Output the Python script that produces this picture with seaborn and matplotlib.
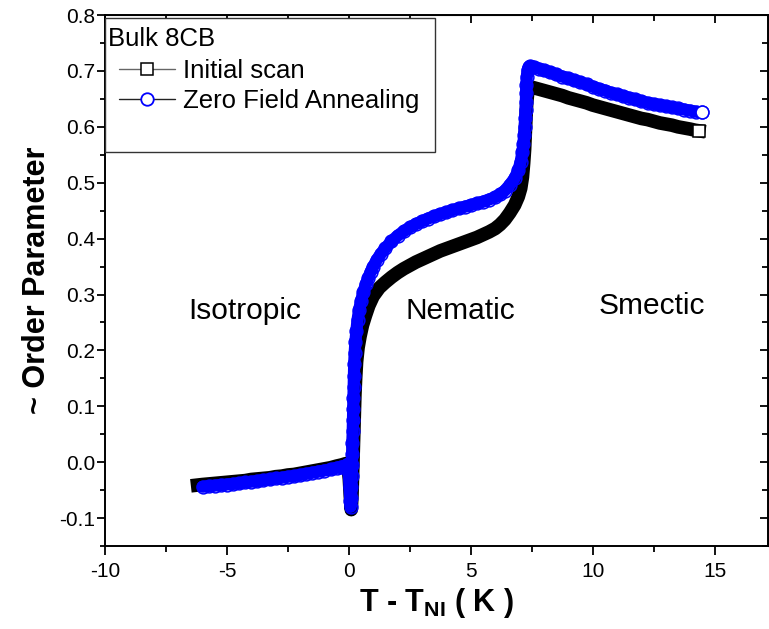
import numpy as np
import matplotlib
matplotlib.use("Agg")
import matplotlib.pyplot as plt
import seaborn as sns
from matplotlib.patches import Rectangle
from matplotlib.lines import Line2D
from matplotlib.ticker import MultipleLocator, FormatStrFormatter

# ---- data (T - T_NI in K, ~order parameter) ----
init_T = [-6.2, -6.0, -5.75, -5.5, -5.25, -5.0, -4.75, -4.5, -4.25, -4.0,
          -3.75, -3.5, -3.25, -3.0, -2.75, -2.5, -2.25, -2.0, -1.75, -1.5,
          -1.25, -1.0, -0.75, -0.5, -0.3, -0.15, -0.05,
          0.02, 0.06, 0.10, 0.13, 0.15, 0.17, 0.19, 0.21, 0.23, 0.25,
          0.28, 0.32, 0.38, 0.46, 0.56, 0.68, 0.82, 1.0, 1.25, 1.5,
          1.75, 2.0, 2.25, 2.5, 2.75, 3.0, 3.25, 3.5, 3.75, 4.0,
          4.25, 4.5, 4.75, 5.0, 5.25, 5.5, 5.75, 6.0, 6.2, 6.4,
          6.6, 6.8, 6.95, 7.05, 7.12, 7.17, 7.21, 7.24, 7.27, 7.3,
          7.34, 7.4, 7.5, 7.75, 8.0, 8.25, 8.5, 8.75, 9.0, 9.25,
          9.5, 9.75, 10.0, 10.25, 10.5, 10.75, 11.0, 11.25, 11.5, 11.75,
          12.0, 12.25, 12.5, 12.75, 13.0, 13.25, 13.5, 13.75, 14.0, 14.2,
          14.35]
init_S = [-0.041, -0.040, -0.039, -0.038, -0.037, -0.036, -0.035, -0.034, -0.033, -0.031,
          -0.030, -0.029, -0.028, -0.026, -0.025, -0.023, -0.022, -0.020, -0.018, -0.016,
          -0.014, -0.012, -0.010, -0.007, -0.005, -0.003, -0.002,
          -0.030, -0.060, -0.085, -0.060, -0.030, 0.000, 0.030, 0.060, 0.090, 0.120,
          0.150, 0.180, 0.205, 0.225, 0.245, 0.262, 0.280, 0.297, 0.312, 0.322,
          0.331, 0.339, 0.346, 0.352, 0.358, 0.363, 0.368, 0.373, 0.378, 0.382,
          0.386, 0.390, 0.394, 0.398, 0.402, 0.407, 0.412, 0.418, 0.425, 0.434,
          0.446, 0.460, 0.475, 0.490, 0.510, 0.535, 0.560, 0.590, 0.620, 0.645,
          0.662, 0.671, 0.671, 0.668, 0.665, 0.662, 0.659, 0.656, 0.652, 0.649,
          0.646, 0.643, 0.639, 0.636, 0.633, 0.630, 0.627, 0.624, 0.621, 0.618,
          0.615, 0.613, 0.610, 0.607, 0.605, 0.603, 0.600, 0.598, 0.596, 0.594,
          0.593]

anneal_T = [-6.0, -5.75, -5.5, -5.25, -5.0, -4.75, -4.5, -4.25, -4.0, -3.75,
            -3.5, -3.25, -3.0, -2.75, -2.5, -2.25, -2.0, -1.75, -1.5, -1.25,
            -1.0, -0.75, -0.5, -0.3, -0.15, -0.05,
            0.0, 0.03, 0.06, 0.08, 0.10, 0.11, 0.12, 0.13, 0.14, 0.15,
            0.16, 0.17, 0.18, 0.19, 0.20, 0.21, 0.22, 0.24, 0.27, 0.31,
            0.36, 0.42, 0.5, 0.6, 0.7, 0.8, 0.9, 1.0, 1.15, 1.3,
            1.5, 1.75, 2.0, 2.25, 2.5, 2.75, 3.0, 3.25, 3.5, 3.75,
            4.0, 4.25, 4.5, 4.75, 5.0, 5.25, 5.5, 5.75, 6.0, 6.2,
            6.4, 6.6, 6.8, 6.95, 7.05, 7.12, 7.16, 7.19, 7.21, 7.23,
            7.25, 7.26, 7.27, 7.28, 7.3, 7.33, 7.38, 7.45, 7.6, 7.8,
            8.0, 8.25, 8.5, 8.75, 9.0, 9.25, 9.5, 9.75, 10.0, 10.25,
            10.5, 10.75, 11.0, 11.25, 11.5, 11.75, 12.0, 12.25, 12.5, 12.75,
            13.0, 13.25, 13.5, 13.75, 14.0, 14.25, 14.47]
anneal_S = [-0.044, -0.043, -0.042, -0.041, -0.040, -0.039, -0.038, -0.036, -0.035, -0.034,
            -0.032, -0.031, -0.029, -0.028, -0.026, -0.025, -0.023, -0.021, -0.019, -0.017,
            -0.015, -0.013, -0.010, -0.008, -0.006, -0.004,
            -0.020, -0.045, -0.070, -0.080, -0.065, -0.045, -0.025, -0.005, 0.015, 0.035,
            0.055, 0.075, 0.095, 0.115, 0.135, 0.155, 0.175, 0.195, 0.215, 0.235,
            0.255, 0.272, 0.288, 0.305, 0.318, 0.330, 0.341, 0.350, 0.362, 0.372,
            0.383, 0.395, 0.405, 0.413, 0.420, 0.426, 0.431, 0.436, 0.440, 0.444,
            0.447, 0.451, 0.454, 0.457, 0.460, 0.463, 0.466, 0.470, 0.474, 0.479,
            0.486, 0.496, 0.508, 0.522, 0.538, 0.555, 0.570, 0.585, 0.600, 0.615,
            0.630, 0.645, 0.660, 0.675, 0.690, 0.701, 0.707, 0.709, 0.707, 0.704,
            0.701, 0.698, 0.694, 0.690, 0.687, 0.683, 0.680, 0.676, 0.672, 0.668,
            0.665, 0.661, 0.658, 0.655, 0.652, 0.649, 0.646, 0.643, 0.641, 0.639,
            0.637, 0.635, 0.633, 0.631, 0.629, 0.627, 0.626]

series_labels = ["Initial scan", "Zero Field Annealing"]
phase_names = ["Isotropic", "Nematic", "Smectic"]
phase_T = [-4.26, 4.59, 12.42]
phase_S = [0.27, 0.27, 0.279]

sns.set_style("ticks")
plt.rcParams["font.family"] = ["Liberation Sans", "DejaVu Sans"]
plt.rcParams["mathtext.default"] = "regular"
plt.rcParams["axes.unicode_minus"] = False
for k in ["text.color", "axes.labelcolor", "xtick.color", "ytick.color"]:
    plt.rcParams[k] = "black"

fig = plt.figure(figsize=(7.69, 6.29), dpi=100)
ax = fig.add_axes([0.1365, 0.132, 0.8625, 0.844])

BLACK, BLUE = "black", "#0000ff"
MS = 9.2
# densely packed open symbols in the original merge into a solid band:
# draw the band, then symbol outlines (circles only), last symbol left open
for T, S, col, mk, cap, band_w, outline in [
        (init_T, init_S, BLACK, "s", "projecting", 9.8, False),
        (anneal_T, anneal_S, BLUE, "o", "round", 8.8, True)]:
    sns.lineplot(x=T, y=S, ax=ax, sort=False, estimator=None, color=col,
                 lw=band_w, solid_capstyle=cap, solid_joinstyle="round")
    if outline:
        sns.lineplot(x=T, y=S, ax=ax, sort=False, estimator=None, lw=0,
                     marker=mk, markersize=MS, markerfacecolor="none",
                     markeredgecolor=col, markeredgewidth=1.1)
    sns.lineplot(x=T[-1:], y=S[-1:], ax=ax, sort=False, estimator=None, lw=0,
                 marker=mk, markersize=MS, markerfacecolor="white",
                 markeredgecolor=col, markeredgewidth=1.1)

for name, tx, sy in zip(phase_names, phase_T, phase_S):
    ax.text(tx, sy, name, fontsize=21.5, ha="center", va="center")

ax.set_xlim(-10, 17.2)
ax.set_ylim(-0.15, 0.8)
ax.xaxis.set_major_locator(MultipleLocator(5))
ax.xaxis.set_minor_locator(MultipleLocator(2.5))
ax.yaxis.set_major_locator(MultipleLocator(0.1))
ax.yaxis.set_minor_locator(MultipleLocator(0.05))
ax.yaxis.set_major_formatter(FormatStrFormatter("%.1f"))
ax.tick_params(which="both", direction="out", width=1.3, labelsize=15)
ax.tick_params(axis="x", which="major", length=6.5, pad=5)
ax.tick_params(axis="x", which="minor", length=4.5)
ax.tick_params(axis="y", which="major", length=5.5, pad=1.5)
ax.tick_params(axis="y", which="minor", length=3.5)
for sp in ax.spines.values():
    sp.set_visible(True)
    sp.set_linewidth(1.4)
    sp.set_color("black")

# inward ticks on top and right
top = ax.secondary_xaxis("top")
top.xaxis.set_major_locator(MultipleLocator(5))
top.xaxis.set_minor_locator(MultipleLocator(2.5))
top.tick_params(which="both", direction="in", labeltop=False, width=1.3)
top.tick_params(which="major", length=6)
top.tick_params(which="minor", length=4)
right = ax.secondary_yaxis("right")
right.yaxis.set_major_locator(MultipleLocator(0.1))
right.yaxis.set_minor_locator(MultipleLocator(0.05))
right.tick_params(which="both", direction="in", labelright=False, width=1.3)
right.tick_params(which="major", length=6)
right.tick_params(which="minor", length=4)

ax.set_xlabel(r"T - T$_{NI}$ ( K )", fontsize=22, fontweight="bold", labelpad=4)
ax.set_ylabel("~ Order Parameter", fontsize=22, fontweight="bold", labelpad=5)

# legend box
ax.add_patch(Rectangle((0.0, 0.742), 0.498, 0.252, transform=ax.transAxes,
                       facecolor="white", edgecolor="#333333", lw=1.0, zorder=4))
ax.text(0.0045, 0.955, "Bulk 8CB", transform=ax.transAxes, fontsize=18.5,
        ha="left", va="center", zorder=5)
handles = [Line2D([], [], color="#666666", lw=1.0, marker="s", markersize=8.6,
                  markerfacecolor="white", markeredgecolor=BLACK, markeredgewidth=1.1),
           Line2D([], [], color="#222222", lw=1.0, marker="o", markersize=9.0,
                  markerfacecolor="white", markeredgecolor=BLUE, markeredgewidth=1.3)]
leg = ax.legend(handles, series_labels, loc="upper left",
                bbox_to_anchor=(0.021, 0.917), frameon=False,
                fontsize=18.5, handlelength=2.2, handletextpad=0.3,
                borderpad=0, borderaxespad=0, labelspacing=0.22)
leg.set_zorder(6)

fig.savefig("out.png", dpi=100)
